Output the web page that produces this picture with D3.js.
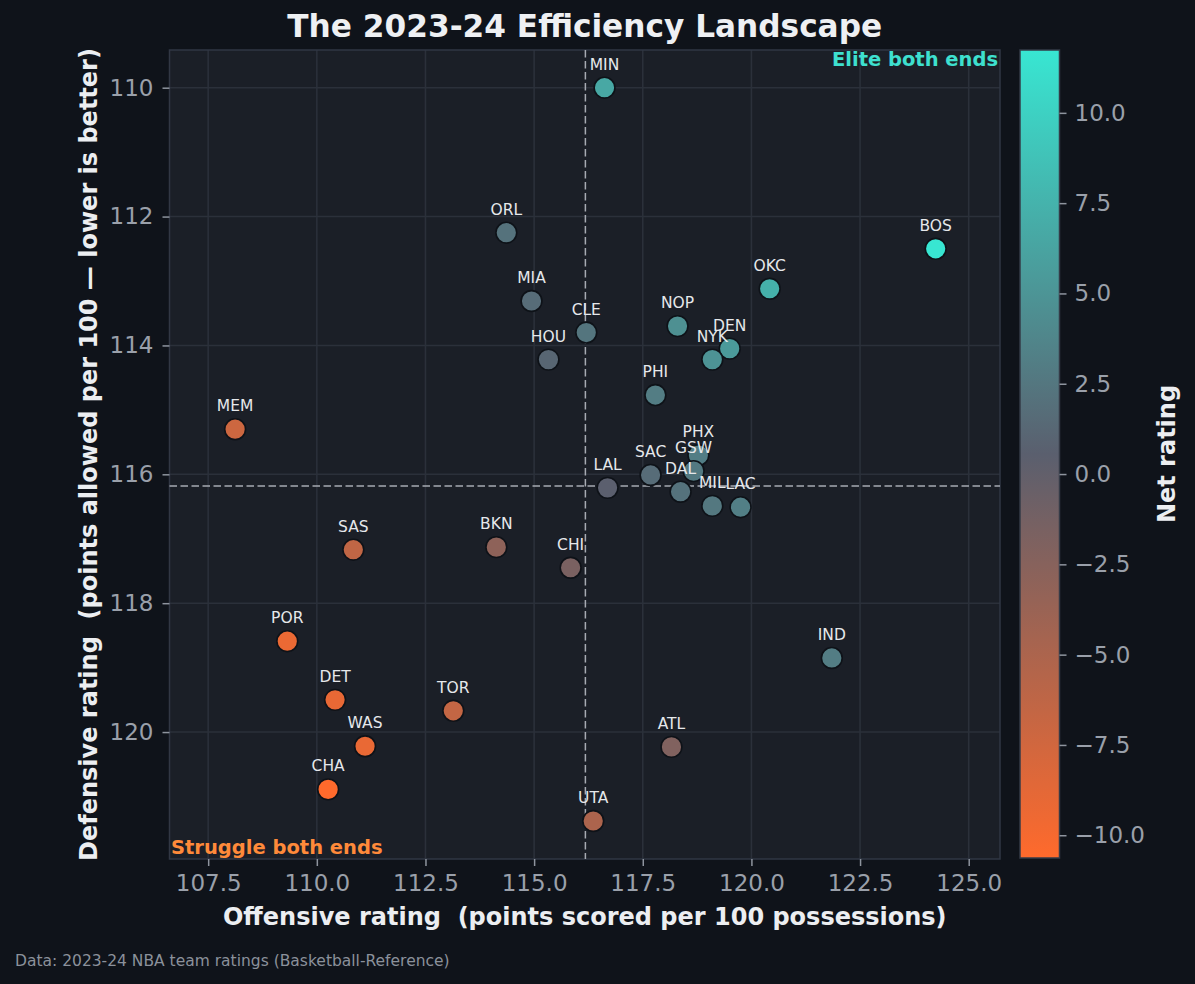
<!DOCTYPE html>
<html>
<head>
<meta charset="utf-8">
<script src="https://cdn.jsdelivr.net/npm/d3@7"></script>
<style>
    body { margin: 0; background: #0f131a; }
    text { font-family: "DejaVu Sans", sans-serif; white-space: pre; }
</style>
</head>
<body>
<svg id="grafico"></svg>
<script>
const WIDTH = 1195,
    HEIGHT = 984;

const margin = {
    top: 50,
    bottom: 125,
    left: 169.5,
    right: 195
};

// data
const teams = ["MIN", "ORL", "BOS", "OKC", "MIA", "NOP", "CLE", "DEN", "NYK", "HOU",
    "PHI", "MEM", "PHX", "GSW", "SAC", "LAL", "DAL", "MIL", "LAC", "BKN",
    "SAS", "CHI", "POR", "IND", "DET", "TOR", "WAS", "ATL", "CHA", "UTA"];
const ortg = [116.62, 114.36, 124.24, 120.42, 114.94, 118.30, 116.20, 119.50, 119.10, 115.33,
    117.79, 108.12, 118.78, 118.67, 117.68, 116.69, 118.37, 119.10, 119.75, 114.13,
    110.84, 115.84, 109.32, 121.85, 110.42, 113.14, 111.11, 118.16, 110.26, 116.36];
const drtg = [110.00, 112.25, 112.50, 113.12, 113.31, 113.70, 113.80, 114.05, 114.22, 114.22,
    114.77, 115.30, 115.70, 115.95, 116.01, 116.21, 116.27, 116.49, 116.51, 117.13,
    117.17, 117.45, 118.59, 118.85, 119.50, 119.67, 120.22, 120.23, 120.89, 121.38];

const xTicks = [107.5, 110, 112.5, 115, 117.5, 120, 122.5, 125];
const yTicks = [110, 112, 114, 116, 118, 120];
const netTicks = [-10, -7.5, -5, -2.5, 0, 2.5, 5, 7.5, 10];

const datos = teams.map((t, i) => ({team: t, ortg: ortg[i], drtg: drtg[i], net: ortg[i] - drtg[i]}));

const svg = d3.select("#grafico")
    .attr("width", WIDTH)
    .attr("height", HEIGHT);

svg.append("rect")
    .attr("width", WIDTH)
    .attr("height", HEIGHT)
    .attr("fill", "#0f131a");

const x0 = margin.left, x1 = 1000,
    y0 = margin.top, y1 = 859;

const escalaX = d3.scaleLinear()
    .domain([106.61, 125.72])
    .range([x0, x1]);

const escalaY = d3.scaleLinear()
    .domain([109.415, 121.97])
    .range([y0, y1]);

const netMin = d3.min(datos, d => d.net),
    netMax = d3.max(datos, d => d.net);

const escalaColor = d3.scaleLinear()
    .domain([netMin, (netMin + netMax) / 2, netMax])
    .range(["#ff6a2c", "#5a5f6e", "#38e6d2"]);

// plot background
svg.append("rect")
    .attr("x", x0)
    .attr("y", y0)
    .attr("width", x1 - x0)
    .attr("height", y1 - y0)
    .attr("fill", "#1b1f27");

// grid
const grid = svg.append("g");
grid.selectAll(".gx")
    .data(xTicks)
    .join("line")
    .attr("x1", d => escalaX(d)).attr("x2", d => escalaX(d))
    .attr("y1", y0).attr("y2", y1)
    .attr("stroke", "#2b303a")
    .attr("stroke-width", 1.6);
grid.selectAll(".gy")
    .data(yTicks)
    .join("line")
    .attr("y1", d => escalaY(d)).attr("y2", d => escalaY(d))
    .attr("x1", x0).attr("x2", x1)
    .attr("stroke", "#2b303a")
    .attr("stroke-width", 1.6);

// plot border
svg.append("rect")
    .attr("x", x0)
    .attr("y", y0)
    .attr("width", x1 - x0)
    .attr("height", y1 - y0)
    .attr("fill", "none")
    .attr("stroke", "#313744")
    .attr("stroke-width", 1.5);

// league averages
const mediaO = d3.mean(ortg), mediaD = d3.mean(drtg);
svg.append("line")
    .attr("x1", escalaX(mediaO)).attr("x2", escalaX(mediaO))
    .attr("y1", y0).attr("y2", y1)
    .attr("stroke", "#a7abb3")
    .attr("stroke-width", 1.5)
    .attr("stroke-dasharray", "7.5,3.5");
svg.append("line")
    .attr("y1", escalaY(mediaD)).attr("y2", escalaY(mediaD))
    .attr("x1", x0).attr("x2", x1)
    .attr("stroke", "#a7abb3")
    .attr("stroke-width", 1.5)
    .attr("stroke-dasharray", "7.5,3.5");

// axes
const ejeX = svg.append("g")
    .attr("transform", `translate(0 ${y1})`)
    .call(d3.axisBottom(escalaX).tickValues(xTicks).tickFormat(d3.format(".1f")).tickSize(7).tickPadding(9));
const ejeY = svg.append("g")
    .attr("transform", `translate(${x0} 0)`)
    .call(d3.axisLeft(escalaY).tickValues(yTicks).tickFormat(d3.format("d")).tickSize(7).tickPadding(9));

[ejeX, ejeY].forEach(eje => {
    eje.select(".domain").remove();
    eje.selectAll(".tick line").attr("stroke", "#8e949e").attr("stroke-width", 1.5);
    eje.selectAll(".tick text")
        .attr("fill", "#9aa0aa")
        .style("font-size", "23px")
        .style("font-family", "DejaVu Sans");
});

// points
svg.append("g")
    .selectAll("circle")
    .data(datos)
    .join("circle")
    .attr("cx", d => escalaX(d.ortg))
    .attr("cy", d => escalaY(d.drtg))
    .attr("r", 10.4)
    .attr("fill", d => escalaColor(d.net))
    .attr("stroke", "#0e1218")
    .attr("stroke-width", 1.6);

// team labels
svg.append("g")
    .selectAll("text")
    .data(datos)
    .join("text")
    .attr("x", d => escalaX(d.ortg))
    .attr("y", d => escalaY(d.drtg) - 18)
    .attr("text-anchor", "middle")
    .attr("fill", "#e6e8eb")
    .style("font-size", "15.5px")
    .text(d => d.team);

// corner notes
svg.append("text")
    .attr("x", 998)
    .attr("y", 66)
    .attr("text-anchor", "end")
    .attr("fill", "#3ee0cf")
    .style("font-size", "19.5px")
    .style("font-weight", "bold")
    .text("Elite both ends");

svg.append("text")
    .attr("x", 171)
    .attr("y", 854)
    .attr("fill", "#ff8a3a")
    .style("font-size", "19.5px")
    .style("font-weight", "bold")
    .text("Struggle both ends");

// title and axis labels
svg.append("text")
    .attr("x", (x0 + x1) / 2)
    .attr("y", 37)
    .attr("text-anchor", "middle")
    .attr("fill", "#eef0f3")
    .style("font-size", "31.2px")
    .style("font-weight", "bold")
    .text("The 2023-24 Efficiency Landscape");

svg.append("text")
    .attr("x", (x0 + x1) / 2)
    .attr("y", 925)
    .attr("text-anchor", "middle")
    .attr("fill", "#eceef1")
    .style("font-size", "24px")
    .style("font-weight", "bold")
    .text("Offensive rating  (points scored per 100 possessions)");

svg.append("text")
    .attr("transform", `translate(97 ${(y0 + y1) / 2}) rotate(-90)`)
    .attr("text-anchor", "middle")
    .attr("fill", "#eceef1")
    .style("font-size", "24px")
    .style("font-weight", "bold")
    .text("Defensive rating  (points allowed per 100 \u2014 lower is better)");

// colorbar
const cbX = 1020, cbW = 39.5, cbTop = 50, cbBottom = 858;

const escalaNet = d3.scaleLinear()
    .domain([netMin, netMax])
    .range([cbBottom, cbTop]);

const grad = svg.append("defs")
    .append("linearGradient")
    .attr("id", "grad-net")
    .attr("x1", 0).attr("y1", 1)
    .attr("x2", 0).attr("y2", 0);
grad.selectAll("stop")
    .data(escalaColor.domain())
    .join("stop")
    .attr("offset", d => (d - netMin) / (netMax - netMin))
    .attr("stop-color", d => escalaColor(d));

svg.append("rect")
    .attr("x", cbX)
    .attr("y", cbTop)
    .attr("width", cbW)
    .attr("height", cbBottom - cbTop)
    .attr("fill", "url(#grad-net)")
    .attr("stroke", "#353b47")
    .attr("stroke-width", 1.5);

const ejeNet = svg.append("g")
    .attr("transform", `translate(${cbX + cbW} 0)`)
    .call(d3.axisRight(escalaNet).tickValues(netTicks).tickFormat(d3.format(".1f")).tickSize(7).tickPadding(8));
ejeNet.select(".domain").remove();
ejeNet.selectAll(".tick line").attr("stroke", "#8e949e").attr("stroke-width", 1.5);
ejeNet.selectAll(".tick text")
    .attr("fill", "#9aa0aa")
    .style("font-size", "23px")
    .style("font-family", "DejaVu Sans");

svg.append("text")
    .attr("transform", `translate(1175 ${(cbTop + cbBottom) / 2}) rotate(-90)`)
    .attr("text-anchor", "middle")
    .attr("fill", "#eceef1")
    .style("font-size", "24px")
    .style("font-weight", "bold")
    .text("Net rating");

// footer
svg.append("text")
    .attr("x", 15)
    .attr("y", 966)
    .attr("fill", "#8b919b")
    .style("font-size", "15.5px")
    .text("Data: 2023-24 NBA team ratings (Basketball-Reference)");
</script>
</body>
</html>
